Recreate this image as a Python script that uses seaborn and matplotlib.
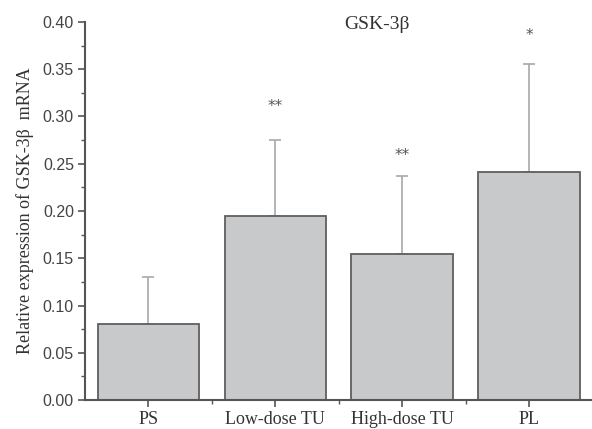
import matplotlib
matplotlib.use("Agg")
import matplotlib.pyplot as plt
import seaborn as sns
import numpy as np
import pandas as pd
from matplotlib.ticker import MultipleLocator

groups = ["PS", "Low-dose TU", "High-dose TU", "PL"]
means = [0.080, 0.195, 0.155, 0.241]
errors = [0.050, 0.080, 0.082, 0.115]
stars = ["", "**", "**", "*"]
star_heights = [0.0, 0.311, 0.259, 0.386]

df = pd.DataFrame({"group": groups, "mean": means})

sns.set_style("ticks")
fig = plt.figure(figsize=(5.92, 4.29), dpi=100)
ax = fig.add_axes([85 / 592, 29 / 429, 507.5 / 592, 378 / 429])

sns.barplot(data=df, x="group", y="mean", ax=ax, color="#c8c9cb",
            edgecolor="#5f5f5f", linewidth=1.3, width=0.8, saturation=1)

xpos = np.arange(len(groups))
ax.errorbar(xpos, means, yerr=[np.zeros(len(errors)), errors], fmt="none",
            ecolor="#a8a8a8", elinewidth=1.2, capsize=4, capthick=1.2, zorder=1)
for b in ax.patches:
    b.set_zorder(2)

for x, s, h in zip(xpos, stars, star_heights):
    if s:
        ax.text(x, h, s, ha="center", va="center", fontsize=11,
                color="#555555", family="DejaVu Sans")

ax.text(1.8, 0.397, "GSK-3β", ha="center", va="center", fontsize=14,
        family="Liberation Serif", color="#333333")

ax.set_xlim(-0.5, 3.5)
ax.set_ylim(0, 0.40)
ax.yaxis.set_major_locator(MultipleLocator(0.05))
ax.yaxis.set_minor_locator(MultipleLocator(0.025))
ax.set_xticks(xpos)
ax.set_xticks(xpos[:-1] + 0.5, minor=True)
ax.set_yticklabels([f"{v:.2f}" for v in ax.get_yticks()],
                   family="Liberation Sans", fontsize=11.5, color="#444444")
ax.set_xticklabels(groups, family="Liberation Serif", fontsize=13, color="#333333")

ax.set_xlabel("")
ax.set_ylabel("Relative expression of GSK-3β  mRNA", family="Liberation Serif",
              fontsize=13, color="#333333", labelpad=6)

for side in ["top", "right"]:
    ax.spines[side].set_visible(False)
for side in ["left", "bottom"]:
    ax.spines[side].set_color("#555555")
    ax.spines[side].set_linewidth(1.5)
ax.tick_params(which="major", length=5, width=1.2, color="#555555", direction="out", pad=3)
ax.tick_params(which="minor", length=3, width=1.0, color="#555555", direction="out")

fig.savefig("out.png", dpi=100)
